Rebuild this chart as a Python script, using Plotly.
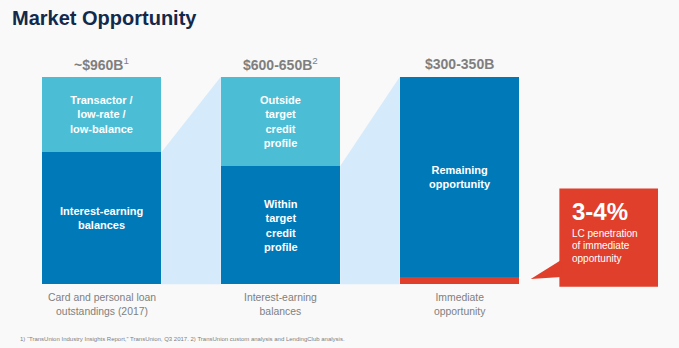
import plotly.graph_objects as go

# ---------------- data ----------------
categories = ["Card and personal loan<br>outstandings (2017)", "Interest-earning<br>balances", "Immediate<br>opportunity"]
totals = ["~$960B", "$600-650B", "$300-350B"]
total_notes = ["1", "2", ""]
lower_share = [63.5, 57.0, 3.5]      # share of each bar (drawn height, %)
upper_share = [36.5, 43.0, 96.5]
lower_labels = ["Interest-earning<br>balances", "Within<br>target<br>credit<br>profile", ""]
upper_labels = ["Transactor /<br>low-rate /<br>low-balance", "Outside<br>target<br>credit<br>profile", "Remaining<br>opportunity"]
lower_colors = ["#0079b8", "#0079b8", "#df3f2b"]
upper_colors = ["#4bbdd5", "#4bbdd5", "#0079b8"]
callout_value = "3-4%"
callout_lines = ["LC penetration", "of immediate", "opportunity"]
footnote = ('1) \u201cTransUnion Industry Insights Report,\u201d TransUnion, Q3 2017. '
            '2) TransUnion custom analysis and LendingClub analysis.')

# ---------------- styling ----------------
FONT = "Liberation Sans, Arial, sans-serif"
BG = "#f9f9f9"
GREY = "#7f7f7f"
CONNECT = "#d5ebfc"
RED = "#df3f2b"
W = 0.667
xs = list(range(len(categories)))
px_per_unit = (284.3 - 76.7) / 100

fig = go.Figure()

# connectors (light blue funnels)
for i in range(len(xs) - 1):
    x0 = xs[i] + W / 2
    x1 = xs[i + 1] - W / 2
    top1 = lower_share[i + 1] + upper_share[i + 1]
    fig.add_trace(go.Scatter(
        x=[x0, x0, x1, x1, x0], y=[0, lower_share[i], top1, 0, 0],
        fill="toself", fillcolor=CONNECT, mode="lines", line=dict(width=0),
        hoverinfo="skip", showlegend=False))

fig.add_trace(go.Bar(x=xs, y=lower_share, width=W, marker=dict(color=lower_colors, line=dict(width=0)),
                     showlegend=False, hoverinfo="skip"))
fig.add_trace(go.Bar(x=xs, y=upper_share, width=W, marker=dict(color=upper_colors, line=dict(width=0)),
                     showlegend=False, hoverinfo="skip"))

ann = []
for i, x in enumerate(xs):
    top = lower_share[i] + upper_share[i]
    sup = f"<sup>{total_notes[i]}</sup>" if total_notes[i] else ""
    ann.append(dict(x=x, y=top + 6.3, text=f"<b>{totals[i]}</b>{sup}", showarrow=False,
                    font=dict(family=FONT, size=14, color=GREY), yanchor="middle"))
    ann.append(dict(x=x, y=-9.6, text=categories[i], showarrow=False,
                    font=dict(family=FONT, size=10.4, color=GREY), yanchor="middle"))
    if upper_labels[i]:
        ann.append(dict(x=x, y=lower_share[i] + upper_share[i] / 2, text=f"<b>{upper_labels[i]}</b>",
                        showarrow=False, font=dict(family=FONT, size=11, color="white"), yanchor="middle"))
    if lower_labels[i]:
        ann.append(dict(x=x, y=lower_share[i] / 2, text=f"<b>{lower_labels[i]}</b>",
                        showarrow=False, font=dict(family=FONT, size=11, color="white"), yanchor="middle"))

# callout box
bx0, bx1, by0, by1 = 2.558, 3.109, -1.2, 46.2
shapes = [
    dict(type="rect", xref="x", yref="y", x0=bx0, x1=bx1, y0=by0, y1=by1,
         fillcolor=RED, line=dict(width=0), layer="above"),
    dict(type="path", xref="x", yref="y",
         path=f"M {bx0+0.01},{11.7} L 2.398,2.6 L {bx0+0.01},{3.5} Z",
         fillcolor=RED, line=dict(width=0), layer="above"),
]
tx = bx0 + 0.058
ann.append(dict(x=tx, y=35.0, text=f"<b>{callout_value}</b>", showarrow=False, xanchor="left",
                font=dict(family=FONT, size=24, color="white"), yanchor="middle"))
for k, line in enumerate(callout_lines):
    py = 233 + 12.5 * k
    ann.append(dict(x=tx, y=(284.3 - py) / px_per_unit, text=line, showarrow=False, xanchor="left",
                    font=dict(family=FONT, size=10, color="white"), yanchor="middle"))

# title and footnote
ann.append(dict(xref="paper", yref="paper", x=10 / 679, y=1 - 18 / 348, xanchor="left", yanchor="middle",
                text="<b>Market Opportunity</b>", showarrow=False,
                font=dict(family=FONT, size=20, color="#13294b")))
ann.append(dict(xref="paper", yref="paper", x=18 / 679, y=1 - 339 / 348, xanchor="left", yanchor="middle",
                text=footnote, showarrow=False, font=dict(family=FONT, size=6, color=GREY)))

fig.update_layout(
    width=679, height=348, margin=dict(l=0, r=0, t=0, b=0),
    paper_bgcolor=BG, plot_bgcolor=BG, barmode="stack", bargap=0,
    xaxis=dict(range=[-101.5 / 179, (679 - 101.5) / 179], visible=False, fixedrange=True),
    yaxis=dict(range=[-(348 - 284.3) / px_per_unit, 100 + 76.7 / px_per_unit], visible=False, fixedrange=True),
    annotations=ann, shapes=shapes, showlegend=False,
)
fig.write_html("out.html", config={"displayModeBar": False})
